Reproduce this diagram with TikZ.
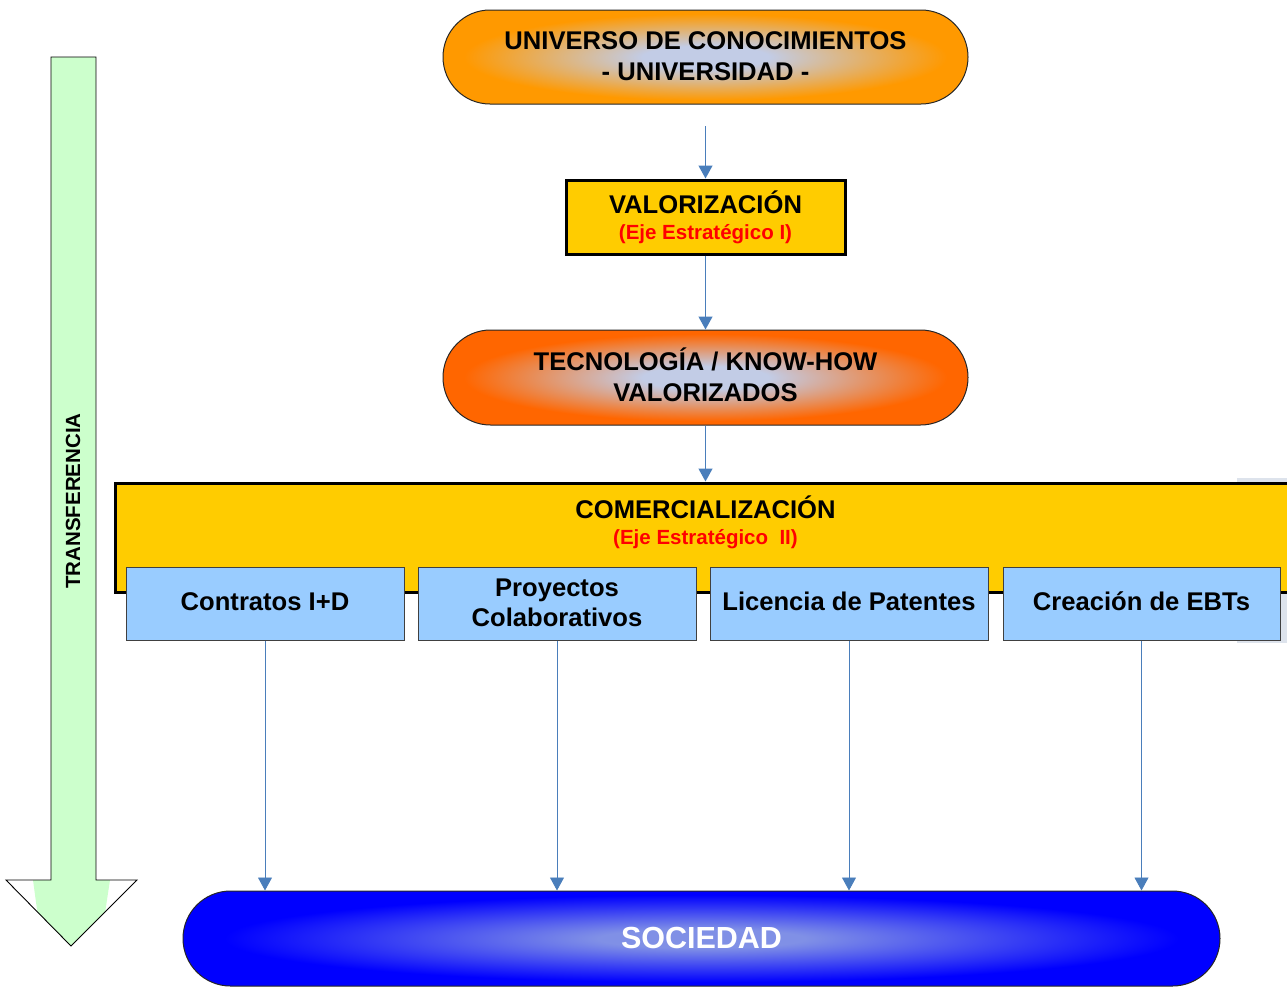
\documentclass[tikz,border=0pt]{standalone}
\usepackage{fontspec}
\setmainfont{Liberation Sans}
\usetikzlibrary{shapes.misc,arrows.meta}
\definecolor{orangeA}{HTML}{FF9900}
\definecolor{orangeB}{HTML}{FF6600}
\definecolor{pillc}{HTML}{C2CCE6}
\definecolor{boxyellow}{HTML}{FFCC00}
\definecolor{subblue}{HTML}{99CCFF}
\definecolor{redtxt}{HTML}{FF0000}
\definecolor{arrowblue}{HTML}{4A7EBB}
\definecolor{blueA}{HTML}{0000FF}
\definecolor{bluec}{HTML}{8090E6}
\definecolor{arrowgreen}{HTML}{CCFFCC}
\definecolor{shadowgray}{HTML}{DDE3EC}
\pgfdeclareradialshading{univshade}{\pgfpoint{0bp}{0bp}}{color(0bp)=(pillc); color(6bp)=(pillc); color(23bp)=(orangeA); color(50bp)=(orangeA)}
\pgfdeclareradialshading{techshade}{\pgfpoint{0bp}{0bp}}{color(0bp)=(pillc); color(6bp)=(pillc); color(23bp)=(orangeB); color(50bp)=(orangeB)}
\pgfdeclareradialshading{socshade}{\pgfpoint{0bp}{0bp}}{color(0bp)=(bluec); color(5bp)=(bluec); color(23bp)=(blueA); color(50bp)=(blueA)}
\tikzset{
  pill/.style={rounded rectangle, draw=black!85, line width=1pt, inner sep=0pt},
  thickbox/.style={rectangle, draw=black, line width=3pt, fill=boxyellow, inner sep=0pt},
  subbox/.style={rectangle, draw=black!75, line width=1pt, fill=subblue, inner sep=0pt, minimum height=73pt},
  bigtxt/.style={font=\fontsize{25.6}{31}\selectfont\bfseries, anchor=base, inner sep=0pt},
  redlabel/.style={font=\fontsize{20.5}{24}\selectfont\bfseries, text=redtxt, anchor=base, inner sep=0pt},
  conn/.style={draw=arrowblue, line width=1.3pt, -{Triangle[width=14pt,length=13pt]}},
  connthin/.style={draw=arrowblue, line width=0.9pt, -{Triangle[width=14pt,length=13pt]}},
}
\begin{document}
\begin{tikzpicture}[x=1pt,y=-1pt]
\useasboundingbox (0,0) rectangle (1287,994);
\clip (0,0) rectangle (1287,994);

% big TRANSFERENCIA arrow
\path[fill=white] (51,57) -- (96,57) -- (96,880) -- (137,880) -- (71,946) -- (6,880) -- (51,880) -- cycle;
\fill[arrowgreen] (51,57) rectangle (96,881);
\begin{scope}
  \clip (6,880) -- (137,880) -- (71,946) -- cycle;
  \fill[arrowgreen] (33,880) -- (110,880) -- (100,946) -- (42,946) -- cycle;
\end{scope}
\draw[black, line width=0.9pt, line join=miter] (51,57) -- (96,57) -- (96,880) -- (137,880) -- (71,946) -- (6,880) -- (51,880) -- cycle;
\node[font=\fontsize{20.5}{24}\selectfont\bfseries, anchor=base, inner sep=0pt, rotate=90] (transf) at (80,501) {TRANSFERENCIA};

% top pill
\node[pill, shading=univshade, minimum width=525pt, minimum height=94pt] (univ) at (705.5,57) {};
\node[bigtxt] (univA) at (705.5,49.3) {UNIVERSO DE CONOCIMIENTOS};
\node[bigtxt] (univB) at (705.5,80.7) {- UNIVERSIDAD -};

% valorizacion box
\node[thickbox, minimum width=279pt, minimum height=74pt] (valbox) at (705.5,217) {};
\node[bigtxt] (valA) at (705.5,213) {VALORIZACIÓN};
\node[redlabel] (valB) at (705.5,239) {(Eje Estratégico I)};

% tech pill
\node[pill, shading=techshade, minimum width=525pt, minimum height=95pt] (tech) at (705.5,377.5) {};
\node[bigtxt] (techA) at (705.5,370.7) {TECNOLOGÍA / KNOW-HOW};
\node[bigtxt] (techB) at (705.5,401) {VALORIZADOS};

% comercializacion
\fill[shadowgray] (1237,478) rectangle (1295,643);
\node[thickbox, minimum width=1285pt, minimum height=109pt] (combox) at (757.5,537.5) {};
\node[bigtxt] (comA) at (705.5,518) {COMERCIALIZACIÓN};
\node[redlabel] (comB) at (705.5,544) {(Eje Estratégico~~II)};

\node[subbox, minimum width=278pt] (c1) at (265,603.5) {};
\node[subbox, minimum width=278pt] (c2) at (557,603.5) {};
\node[subbox, minimum width=278pt] (c3) at (849,603.5) {};
\node[subbox, minimum width=277pt] (c4) at (1141.5,603.5) {};
\node[bigtxt] (t1) at (265,610.7) {Contratos I+D};
\node[bigtxt] (t2a) at (557,596) {Proyectos};
\node[bigtxt] (t2b) at (557,626.7) {Colaborativos};
\node[bigtxt] (t3) at (849,610.7) {Licencia de Patentes};
\node[bigtxt] (t4) at (1141.5,610.7) {Creación de EBTs};

% sociedad
\node[pill, shading=socshade, minimum width=1037pt, minimum height=95pt] (soc) at (701.5,938.5) {};
\node[font=\fontsize{30.5}{36}\selectfont\bfseries, text=white, anchor=base, inner sep=0pt] (socT) at (701.5,948) {SOCIEDAD};

% connectors
\coordinate (a0) at (705.5,126);
\draw[conn] (a0) -- (valbox.north);
\draw[conn] (valbox.south) -- (tech.north);
\draw[conn] (tech.south) -- (tech.south |- combox.north);
\draw[connthin] (c1.south) -- (c1.south |- soc.north);
\draw[connthin] (c2.south) -- (c2.south |- soc.north);
\draw[connthin] (c3.south) -- (c3.south |- soc.north);
\draw[connthin] (c4.south) -- (c4.south |- soc.north);
\end{tikzpicture}
\end{document}
